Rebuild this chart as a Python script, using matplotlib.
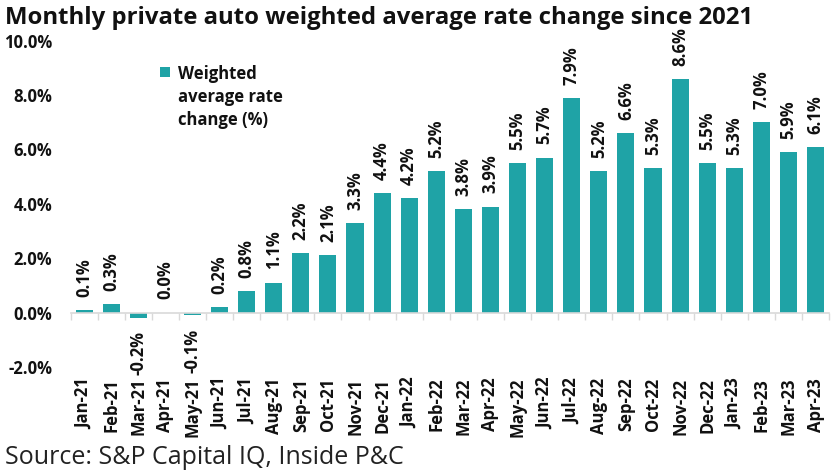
import matplotlib
matplotlib.use("Agg")
import matplotlib.pyplot as plt
import numpy as np
from matplotlib.ticker import FixedLocator, FuncFormatter
from matplotlib.legend_handler import HandlerPatch
from matplotlib.patches import Rectangle
from matplotlib.container import BarContainer

months = ["Jan-21", "Feb-21", "Mar-21", "Apr-21", "May-21", "Jun-21", "Jul-21", "Aug-21",
          "Sep-21", "Oct-21", "Nov-21", "Dec-21", "Jan-22", "Feb-22", "Mar-22", "Apr-22",
          "May-22", "Jun-22", "Jul-22", "Aug-22", "Sep-22", "Oct-22", "Nov-22", "Dec-22",
          "Jan-23", "Feb-23", "Mar-23", "Apr-23"]
rates = [0.1, 0.3, -0.2, 0.0, -0.1, 0.2, 0.8, 1.1, 2.2, 2.1, 3.3, 4.4, 4.2, 5.2, 3.8, 3.9,
         5.5, 5.7, 7.9, 5.2, 6.6, 5.3, 8.6, 5.5, 5.3, 7.0, 5.9, 6.1]
yticks = [-2, 0, 2, 4, 6, 8, 10]
series_label = "Weighted\naverage rate\nchange (%)"

plt.rcParams['font.family'] = ['Open Sans', 'DejaVu Sans']
plt.rcParams['font.weight'] = 'bold'
color = "#1fa3a6"
txt_color = "#111111"

fig = plt.figure(figsize=(8.4, 4.74), dpi=100)
ax = fig.add_axes([0.084, 0.226, 0.903, 0.688])

x = np.arange(len(months))
ax.bar(x, rates, width=0.63, color=color, label=series_label)

for xi, v in zip(x, rates):
    if v >= 0:
        ax.annotate(f"{v:.1f}%", (xi, v), xytext=(0, 9.5), textcoords="offset points",
                    rotation=90, ha="center", va="bottom", fontsize=12, fontweight="bold",
                    color=txt_color)
    else:
        ax.annotate(f"{v:.1f}%", (xi, v), xytext=(0, -9.5), textcoords="offset points",
                    rotation=90, ha="center", va="top", fontsize=12, fontweight="bold",
                    color=txt_color)

ax.set_xlim(-0.5, len(months) - 0.5)
ax.set_ylim(-2, 10)
ax.set_yticks(yticks)
ax.yaxis.set_major_formatter(FuncFormatter(lambda v, p: f"{v:.1f}%"))
ax.tick_params(axis="y", length=0, pad=13, labelsize=12, labelcolor=txt_color)

ax.set_xticks(x)
ax.set_xticklabels(months)
ax.xaxis.set_minor_locator(FixedLocator(np.arange(-0.5, len(months), 1.0)))
ax.tick_params(axis="x", which="major", length=0, pad=47, labelrotation=90,
               labelsize=12, labelcolor=txt_color)
ax.tick_params(axis="x", which="minor", length=5, color="#d9d9d9", width=1)

for s in ["top", "right", "left"]:
    ax.spines[s].set_visible(False)
ax.spines["bottom"].set_position(("data", 0))
ax.spines["bottom"].set_color("#d9d9d9")
ax.spines["bottom"].set_linewidth(1.2)


def top_square(legend, orig_handle, xdescent, ydescent, width, height, fontsize):
    s = 0.62 * fontsize
    return Rectangle((-xdescent, -ydescent + 19), s, s)


def from_first_bar(tgt, src):
    tgt.update_from(src.patches[0])


leg = ax.legend(loc="upper left", bbox_to_anchor=(0.118, 0.927), frameon=False,
                prop={"weight": "bold", "size": 12}, handlelength=0.62, handleheight=0.62,
                handletextpad=0.45, borderpad=0, borderaxespad=0,
                handler_map={BarContainer: HandlerPatch(patch_func=top_square,
                                                        update_func=from_first_bar)})
for t in leg.get_texts():
    t.set_linespacing(1.38)
    t.set_color(txt_color)

fig.text(0.006, 0.962, "Monthly private auto weighted average rate change since 2021",
         fontsize=17.2, fontweight="bold", ha="left", va="center", color=txt_color)
fig.text(0.006, 0.034, "Source: S&P Capital IQ, Inside P&C", fontsize=18,
         fontweight="normal", ha="left", va="center", color="#222222")

fig.savefig("out.png", dpi=100)
